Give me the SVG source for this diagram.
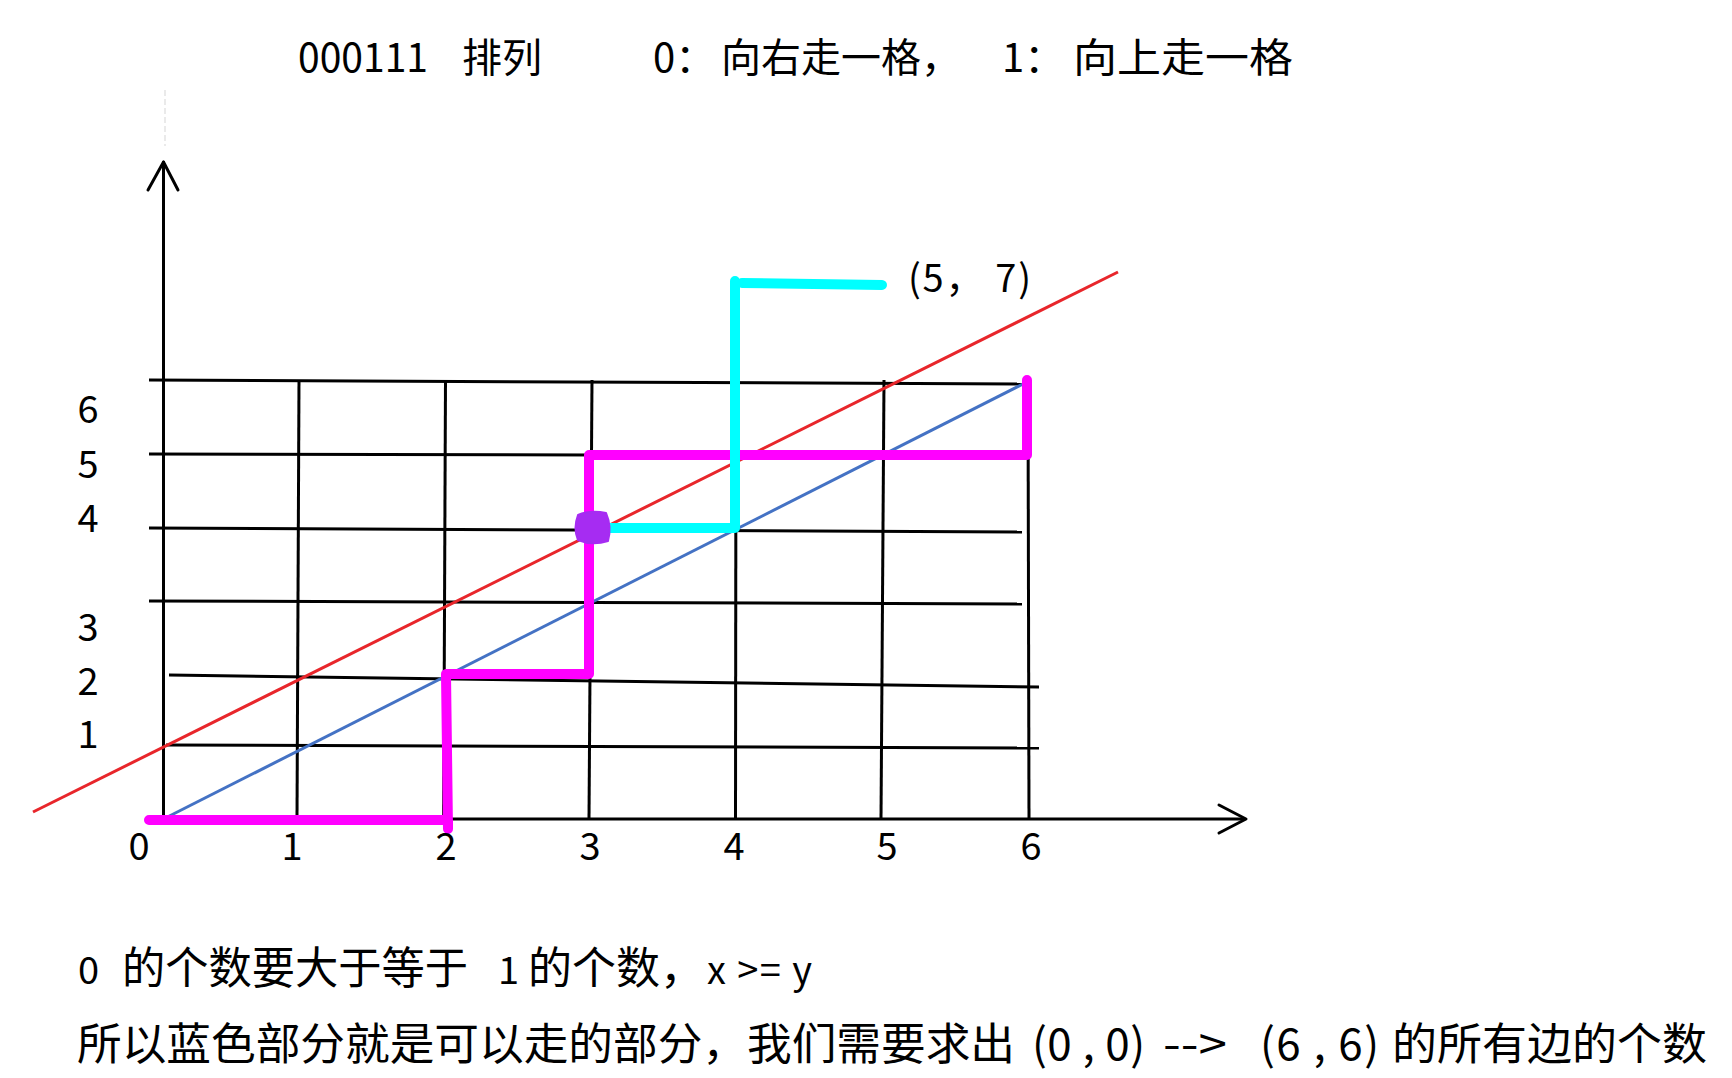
<svg xmlns="http://www.w3.org/2000/svg" width="1732" height="1078" viewBox="0 0 1732 1078">
<style>
.t{font-family:"Noto Sans CJK SC","Noto Sans",sans-serif;fill:#000}
.g{stroke:#000;stroke-width:3;fill:none;stroke-linecap:butt}
.ax{stroke:#000;stroke-width:3;fill:none;stroke-linecap:round;stroke-linejoin:round}
.lbl{font-size:38px;text-anchor:middle}
</style>
<rect width="1732" height="1078" fill="#fff"/>
<g id="title" class="t" font-size="40">
<text x="298" y="72" textLength="130" lengthAdjust="spacingAndGlyphs">000111</text>
<text x="462" y="72">排列</text>
<text x="653" y="72">0：</text>
<text x="721" y="72" textLength="240" lengthAdjust="spacingAndGlyphs">向右走一格，</text>
<text x="1002" y="72">1：</text>
<text x="1073" y="72" textLength="220" lengthAdjust="spacingAndGlyphs">向上走一格</text>
</g>
<g id="grid">
<line class="g" x1="149" y1="380" x2="1027" y2="384"/>
<line class="g" x1="149" y1="454" x2="1027" y2="456"/>
<line class="g" x1="149" y1="528" x2="1022" y2="532"/>
<line class="g" x1="149" y1="601" x2="1022" y2="604"/>
<line class="g" x1="169" y1="675" x2="1039" y2="687"/>
<line class="g" x1="166" y1="745" x2="1039" y2="748"/>
<line class="g" x1="299" y1="380" x2="297" y2="819"/>
<line class="g" x1="445.5" y1="380" x2="443.6" y2="819"/>
<line class="g" x1="592" y1="380" x2="589" y2="819"/>
<line class="g" x1="736" y1="381" x2="735.5" y2="819"/>
<line class="g" x1="884" y1="380" x2="881" y2="819"/>
<line class="g" x1="1028" y1="383" x2="1029" y2="819"/>
</g>
<g id="axes">
<line x1="165" y1="90" x2="165" y2="146" stroke="#e4e4e4" stroke-width="1.5" stroke-dasharray="6 3"/>
<line class="ax" x1="163.5" y1="162" x2="163.5" y2="819"/>
<polyline class="ax" points="148,190 163.5,162 178,190"/>
<line class="ax" x1="163.5" y1="819" x2="1244" y2="819"/>
<polyline class="ax" points="1219,805 1246,819 1219,833"/>
</g>
<g id="diagonals">
<line x1="33" y1="812" x2="1118" y2="272" stroke="#e8262b" stroke-width="3"/>
<line x1="163.5" y1="819" x2="1025" y2="383" stroke="#4472c4" stroke-width="3"/>
</g>
<g id="paths" fill="none" stroke-linecap="round" stroke-linejoin="round">
<polyline points="149,820 448,820 448,829 446,674 589,674 589,455 1027,455 1027,380" stroke="#ff00ff" stroke-width="10"/>
<polyline points="592,528 735,528 735,281" stroke="#00ffff" stroke-width="10"/>
<line x1="742" y1="283" x2="882" y2="285" stroke="#00ffff" stroke-width="10"/>
<path d="M578,515 Q590,510 606,513 Q612,527 608,541 Q592,546 578,540 Q573,528 578,515Z" fill="#a62cf2" stroke="#a62cf2" stroke-width="2"/>
</g>
<g id="axis-labels" class="t">
<text class="lbl" x="139" y="860">0</text>
<text class="lbl" x="292" y="860">1</text>
<text class="lbl" x="446" y="860">2</text>
<text class="lbl" x="590" y="860">3</text>
<text class="lbl" x="734" y="860">4</text>
<text class="lbl" x="887" y="860">5</text>
<text class="lbl" x="1031" y="860">6</text>
<text class="lbl" x="88" y="423">6</text>
<text class="lbl" x="88" y="478">5</text>
<text class="lbl" x="88" y="532">4</text>
<text class="lbl" x="88" y="641">3</text>
<text class="lbl" x="88" y="695">2</text>
<text class="lbl" x="88" y="748">1</text>
</g>
<g id="point-label" class="t">
<text x="908" y="292" font-size="38" textLength="123" lengthAdjust="spacing">(5， 7)</text>
</g>
<g id="notes" class="t">
<text x="78" y="984" font-size="38">0</text>
<text x="122" y="984" font-size="44" textLength="346" lengthAdjust="spacingAndGlyphs">的个数要大于等于</text>
<text x="498" y="984" font-size="38">1</text>
<text x="528" y="984" font-size="44">的个数，</text>
<text x="707" y="984" font-size="38" textLength="105" lengthAdjust="spacing">x &gt;= y</text>
<text x="77" y="1060" font-size="44" textLength="938" lengthAdjust="spacingAndGlyphs">所以蓝色部分就是可以走的部分，我们需要求出</text>
<text x="1032" y="1060" font-size="44" textLength="113" lengthAdjust="spacing">(0 , 0)</text>
<text x="1163" y="1060" font-size="44" textLength="64" lengthAdjust="spacingAndGlyphs">--&gt;</text>
<text x="1260" y="1060" font-size="44" textLength="119" lengthAdjust="spacing">(6 , 6)</text>
<text x="1392" y="1060" font-size="44" textLength="315" lengthAdjust="spacingAndGlyphs">的所有边的个数</text>
</g>
</svg>
